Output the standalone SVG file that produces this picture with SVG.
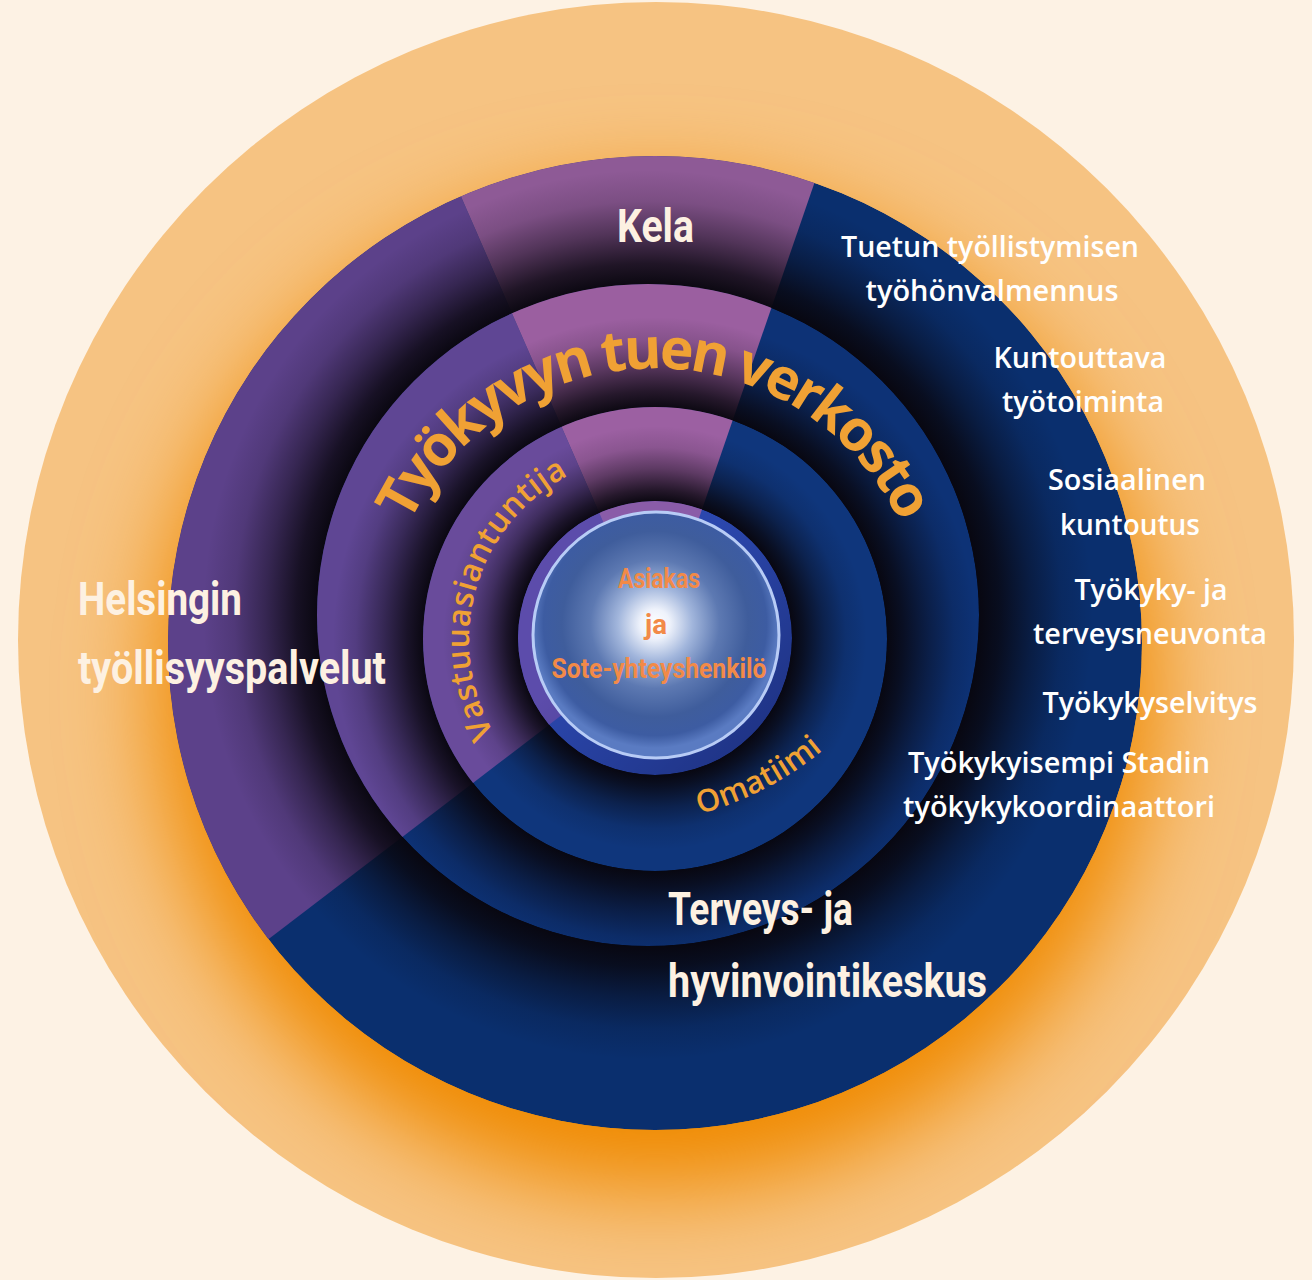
<svg xmlns="http://www.w3.org/2000/svg" width="1312" height="1280" viewBox="0 0 1312 1280">
<style>
.lbl{font-family:Roboto,"Liberation Sans",sans-serif;font-weight:700;font-size:46px;fill:#fdf1e2}
.svc{font-family:"Open Sans","Noto Sans",sans-serif;font-weight:600;font-size:29px;fill:#ffffff;text-anchor:middle}
.arc{font-family:"Open Sans","Noto Sans",sans-serif;font-weight:600;fill:#f0a134}
.title{font-weight:700}
.core{font-family:Roboto,"Liberation Sans",sans-serif;font-weight:700;font-size:28px;fill:#f28a48;text-anchor:middle}
</style>
<defs>
  <clipPath id="clipOrange"><circle cx="656" cy="640" r="638"/></clipPath>
  <clipPath id="clipL1"><circle cx="655" cy="643" r="487"/></clipPath>
  <clipPath id="clipL2"><circle cx="648" cy="615" r="331"/></clipPath>
  <clipPath id="clipL3"><circle cx="655" cy="639" r="232"/></clipPath>
  <clipPath id="clipRim"><circle cx="655" cy="638" r="137"/></clipPath>
  <filter id="glowBlur" x="-30%" y="-30%" width="160%" height="160%"><feGaussianBlur stdDeviation="45"/></filter>
  <radialGradient id="shade1" gradientUnits="userSpaceOnUse" cx="648" cy="615" r="445">
    <stop offset="0.744" stop-color="#08060e" stop-opacity="0.97"/>
    <stop offset="0.79" stop-color="#08060e" stop-opacity="0.82"/>
    <stop offset="0.86" stop-color="#08060e" stop-opacity="0.45"/>
    <stop offset="0.93" stop-color="#08060e" stop-opacity="0.14"/>
    <stop offset="1" stop-color="#08060e" stop-opacity="0"/>
  </radialGradient>
  <radialGradient id="shade2" gradientUnits="userSpaceOnUse" cx="655" cy="639" r="322">
    <stop offset="0.72" stop-color="#08060e" stop-opacity="0.97"/>
    <stop offset="0.77" stop-color="#08060e" stop-opacity="0.8"/>
    <stop offset="0.85" stop-color="#08060e" stop-opacity="0.45"/>
    <stop offset="0.93" stop-color="#08060e" stop-opacity="0.14"/>
    <stop offset="1" stop-color="#08060e" stop-opacity="0"/>
  </radialGradient>
  <radialGradient id="shade3" gradientUnits="userSpaceOnUse" cx="655" cy="638" r="212">
    <stop offset="0.646" stop-color="#08060e" stop-opacity="0.97"/>
    <stop offset="0.7" stop-color="#08060e" stop-opacity="0.8"/>
    <stop offset="0.8" stop-color="#08060e" stop-opacity="0.42"/>
    <stop offset="0.9" stop-color="#08060e" stop-opacity="0.12"/>
    <stop offset="1" stop-color="#08060e" stop-opacity="0"/>
  </radialGradient>
  <radialGradient id="sphere" gradientUnits="userSpaceOnUse" cx="655" cy="624" r="124">
    <stop offset="0" stop-color="#ffffff"/>
    <stop offset="0.12" stop-color="#eef2fb"/>
    <stop offset="0.3" stop-color="#a2b6dc"/>
    <stop offset="0.52" stop-color="#5d79b2"/>
    <stop offset="0.75" stop-color="#3f5d9c"/>
    <stop offset="0.9" stop-color="#3d5ca2"/>
    <stop offset="1" stop-color="#5a7bc2"/>
  </radialGradient>
  <linearGradient id="rimShade" x1="0" y1="0" x2="1" y2="1">
    <stop offset="0.4" stop-color="#000020" stop-opacity="0"/>
    <stop offset="1" stop-color="#000020" stop-opacity="0.35"/>
  </linearGradient>
  <path id="wedgeLeft" d="M656,643 L99.9,1068.2 L-44,643 L375.8,1.5 Z"/>
  <path id="wedgeTop" d="M656,643 L375.8,1.5 L883.9,-18.9 Z"/>
  <path id="titlePath" d="M384,663.7 A272,272 0 1 1 926,663.7"/>
  <path id="vastPath" d="M588.3,813.6 A186,186 0 0 1 690.5,457.4"/>
  <path id="omaPath" d="M583.1,824.7 A331,331 0 0 0 898.6,660.5"/>
</defs>

<rect width="1312" height="1280" fill="#fdf2e4"/>

<g id="orange-ring">
  <circle cx="656" cy="640" r="638" fill="#f6c382"/>
  <g clip-path="url(#clipOrange)">
    <circle cx="656" cy="690" r="500" fill="#f08a00" filter="url(#glowBlur)"/>
  </g>
</g>

<g id="outer-ring">
  <g clip-path="url(#clipL1)">
    <circle cx="655" cy="643" r="487" fill="#0a2f6e"/>
    <use href="#wedgeLeft" fill="#5c418a"/>
    <use href="#wedgeTop" fill="#8e5a96"/>
    <circle cx="648" cy="615" r="445" fill="url(#shade1)"/>
  </g>
</g>

<g id="ring-network">
  <g clip-path="url(#clipL2)">
    <circle cx="648" cy="615" r="331" fill="#0d3276"/>
    <use href="#wedgeLeft" fill="#5f4694"/>
    <use href="#wedgeTop" fill="#9b5fa0"/>
    <circle cx="655" cy="639" r="322" fill="url(#shade2)"/>
  </g>
</g>

<g id="ring-team">
  <g clip-path="url(#clipL3)">
    <circle cx="655" cy="639" r="232" fill="#0f367c"/>
    <use href="#wedgeLeft" fill="#694b9b"/>
    <use href="#wedgeTop" fill="#9c60a2"/>
    <circle cx="655" cy="638" r="212" fill="url(#shade3)"/>
  </g>
</g>

<g id="core">
  <g clip-path="url(#clipRim)">
    <circle cx="655" cy="638" r="137" fill="#2b47ad"/>
    <use href="#wedgeLeft" fill="#5c4cab"/>
    <use href="#wedgeTop" fill="#8a5ca8"/>
    <circle cx="655" cy="638" r="137" fill="url(#rimShade)"/>
  </g>
  <circle cx="656" cy="635" r="123" fill="url(#sphere)" stroke="#b8ccf6" stroke-width="3"/>
  <text class="core" x="659" y="588" textLength="82" lengthAdjust="spacingAndGlyphs">Asiakas</text>
  <text class="core" x="656" y="634" textLength="22" lengthAdjust="spacingAndGlyphs">ja</text>
  <text class="core" x="659" y="678" textLength="215" lengthAdjust="spacingAndGlyphs">Sote-yhteyshenkilö</text>
</g>

<g id="connectors"></g>

<g id="labels-ring">
  <text class="arc title" font-size="57"><textPath href="#titlePath" startOffset="50%" text-anchor="middle" textLength="612" lengthAdjust="spacing">Työkyvyn tuen verkosto</textPath></text>
  <text class="arc" font-size="32"><textPath href="#vastPath" startOffset="50%" text-anchor="middle" textLength="300" lengthAdjust="spacing">Vastuuasiantuntija</textPath></text>
  <text class="arc" font-size="31"><textPath href="#omaPath" startOffset="50%" text-anchor="middle">Omatiimi</textPath></text>
</g>

<g id="label-kela">
  <text class="lbl" x="617" y="242" textLength="77" lengthAdjust="spacingAndGlyphs">Kela</text>
</g>
<g id="label-helsinki">
  <text class="lbl" x="78" y="615" textLength="164" lengthAdjust="spacingAndGlyphs">Helsingin</text>
  <text class="lbl" x="78" y="684" textLength="308" lengthAdjust="spacingAndGlyphs">työllisyyspalvelut</text>
</g>
<g id="label-terveys">
  <text class="lbl" x="668" y="925" textLength="185" lengthAdjust="spacingAndGlyphs">Terveys- ja</text>
  <text class="lbl" x="668" y="997" textLength="319" lengthAdjust="spacingAndGlyphs">hyvinvointikeskus</text>
</g>

<g id="services">
  <text class="svc" x="990" y="257" textLength="298" lengthAdjust="spacingAndGlyphs">Tuetun työllistymisen</text>
  <text class="svc" x="992" y="301" textLength="253" lengthAdjust="spacingAndGlyphs">työhönvalmennus</text>
  <text class="svc" x="1080" y="368" textLength="173" lengthAdjust="spacingAndGlyphs">Kuntouttava</text>
  <text class="svc" x="1083" y="412" textLength="162" lengthAdjust="spacingAndGlyphs">työtoiminta</text>
  <text class="svc" x="1127" y="490" textLength="158" lengthAdjust="spacingAndGlyphs">Sosiaalinen</text>
  <text class="svc" x="1130" y="535" textLength="140" lengthAdjust="spacingAndGlyphs">kuntoutus</text>
  <text class="svc" x="1151" y="600" textLength="153" lengthAdjust="spacingAndGlyphs">Työkyky- ja</text>
  <text class="svc" x="1150" y="644" textLength="234" lengthAdjust="spacingAndGlyphs">terveysneuvonta</text>
  <text class="svc" x="1150" y="713" textLength="215" lengthAdjust="spacingAndGlyphs">Työkykyselvitys</text>
  <text class="svc" x="1059" y="773" textLength="302" lengthAdjust="spacingAndGlyphs">Työkykyisempi Stadin</text>
  <text class="svc" x="1059" y="817" textLength="312" lengthAdjust="spacingAndGlyphs">työkykykoordinaattori</text>
</g>
</svg>
